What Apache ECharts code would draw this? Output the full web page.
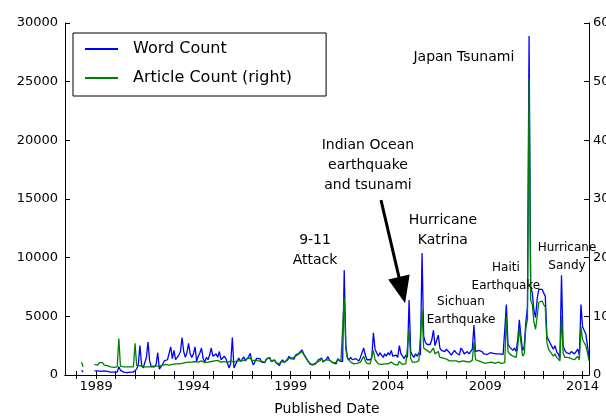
<!DOCTYPE html>
<html>
<head>
<meta charset="utf-8">
<script src="https://cdn.jsdelivr.net/npm/echarts@6/dist/echarts.min.js"></script>
<style>
  html, body { margin: 0; padding: 0; background: #fff; }
  #chart { width: 606px; height: 419px; }
</style>
</head>
<body>
<div id="chart"></div>
<script>
// monthly totals, Jan 1988 .. Apr 2014 (null = no data)
var wordCount = [
  null, null, 400, 250, null, null, null, null, null, null, 350, 450,        // 1988
  350, 500, 300, 450, 350, 400, 300, 250, 250, 300, 250, 300,               // 1989
  250, 700, 400, 300, 250, 200, 200, 250, 250, 200, 250, 300,               // 1990
  500, 900, 2500, 900, 600, 700, 1500, 2800, 1200, 700, 600, 700,           // 1991
  900, 1900, 500, 400, 900, 1200, 1100, 1300, 1200, 2400, 1400, 2100,       // 1992
  1300, 1500, 1700, 2000, 3200, 2000, 1500, 1900, 2700, 1800, 1500, 1800,   // 1993
  2400, 1200, 1600, 1900, 2300, 1400, 1100, 1500, 1300, 1700, 2300, 1600,   // 1994
  1500, 1800, 1500, 2000, 1300, 1400, 1600, 1400, 1000, 600, 1000, 3200,    // 1995
  600, 900, 1200, 1450, 1150, 1300, 1550, 1200, 1280, 1550, 1850, 1200,     // 1996
  850, 1150, 1420, 1250, 1400, 1100, 1250, 1050, 1350, 1200, 1500, 1150,    // 1997
  1000, 1250, 1050, 1000, 800, 1100, 1300, 1050, 950, 1350, 1600, 1400,     // 1998
  1500, 1350, 1700, 1550, 1850, 1750, 2130, 1800, 1700, 1350, 1150, 900,    // 1999
  770, 900, 800, 1050, 1300, 1150, 1450, 1100, 950, 1350, 1560, 1250,       // 2000
  1400, 1050, 1150, 950, 1400, 1200, 1300, 1150, 8950, 2500, 1500, 1300,    // 2001
  1500, 1300, 1200, 1400, 1300, 1200, 1500, 1400, 2300, 1700, 1300, 1400,   // 2002
  1300, 1500, 3600, 2200, 2300, 1600, 1900, 1700, 1500, 1800, 1600, 1900,   // 2003
  1700, 2100, 1600, 1500, 1700, 1500, 2500, 1800, 1600, 1400, 1700, 1500,   // 2004
  6400, 2000, 1700, 1500, 1800, 1600, 1900, 1700, 10400, 3300, 2800, 2600,  // 2005
  2700, 2600, 3000, 3800, 2500, 2400, 3400, 2300, 2100, 2200, 2000, 2200,   // 2006
  2300, 1900, 1700, 1800, 2100, 1900, 1800, 1700, 2300, 2100, 1800, 1900,   // 2007
  2000, 1800, 1850, 2200, 4260, 2000, 1900, 2100, 2150, 2000, 1800, 1700,   // 2008
  1750, 1800, 1900, 2000, 1850, 1700, 1800, 1900, 1800, 1700, 1750, 1850,   // 2009
  6000, 2600, 2400, 2500, 2100, 2300, 2000, 3000, 4700, 3300, 2100, 2400,   // 2010
  4500, 5800, 28900, 7500, 7000, 5500, 4900, 6500, 7300, 7200, 7300, 7000,  // 2011
  6700, 3300, 3000, 2700, 2600, 2200, 2500, 2000, 1800, 1400, 8500, 2500,   // 2012
  2100, 1900, 2000, 1800, 2000, 2100, 1800, 2000, 2200, 1700, 6000, 4100,   // 2013
  3800, 3500, 2500, 1500                                                    // 2014
];

var articleCount = [
  null, null, 22, 14, null, null, null, null, null, null, 18, 20,  // 1988
  17, 21, 18, 21, 17, 20, 16, 15, 14, 14, 13, 14,                 // 1989
  14, 62, 15, 14, 14, 14, 14, 14, 14, 14, 14, 54,                 // 1990
  16, 14, 16, 14, 14, 15, 14, 16, 14, 14, 15, 15,                 // 1991
  15, 16, 15, 16, 17, 17, 18, 18, 17, 19, 18, 18,                 // 1992
  19, 20, 19, 21, 20, 22, 21, 20, 22, 21, 22, 22,                 // 1993
  23, 21, 22, 23, 24, 22, 21, 23, 22, 24, 23, 22,                 // 1994
  24, 23, 25, 23, 22, 24, 23, 22, 21, 20, 24, 26,                 // 1995
  22, 23, 24, 27, 24, 27, 25, 24, 28, 25, 29, 25,                 // 1996
  22, 25, 28, 24, 27, 23, 25, 22, 27, 25, 29, 24,                 // 1997
  23, 26, 21, 22, 19, 23, 26, 22, 21, 25, 29, 27,                 // 1998
  29, 27, 32, 31, 36, 34, 40, 35, 32, 26, 22, 19,                 // 1999
  17, 20, 18, 22, 25, 24, 28, 23, 21, 26, 29, 25,                 // 2000
  27, 21, 23, 21, 26, 24, 25, 23, 132, 44, 28, 25,                // 2001
  22, 20, 19, 21, 20, 19, 22, 21, 32, 24, 20, 20,                 // 2002
  19, 20, 42, 26, 24, 19, 20, 18, 18, 19, 18, 19,                 // 2003
  18, 22, 19, 18, 19, 17, 23, 20, 18, 17, 19, 18,                 // 2004
  77, 28, 22, 20, 22, 21, 24, 22, 111, 46, 44, 42,                // 2005
  40, 38, 40, 46, 36, 34, 40, 30, 28, 29, 27, 27,                 // 2006
  26, 24, 23, 24, 26, 24, 23, 22, 25, 24, 22, 23,                 // 2007
  23, 22, 22, 25, 56, 26, 23, 24, 24, 22, 21, 20,                 // 2008
  20, 21, 22, 22, 21, 20, 21, 22, 21, 20, 20, 21,                 // 2009
  100, 40, 36, 38, 32, 34, 30, 48, 80, 55, 32, 36,                // 2010
  80, 95, 505, 128, 120, 90, 78, 100, 124, 126, 126, 120,         // 2011
  116, 56, 44, 40, 38, 32, 36, 30, 28, 24, 100, 38,               // 2012
  30, 28, 30, 27, 28, 30, 26, 28, 32, 26, 82, 60,                 // 2013
  55, 50, 38, 24                                                  // 2014
];

var firstYear = 1988;
var yearTicks = [];
for (var y = 1988; y <= 2014; y++) yearTicks.push(y);
var yearLabels = [1989, 1994, 1999, 2004, 2009, 2014];

// annotations, anchored in (year, word count)
var notes = [
  { text: 'Japan Tsunami', x: 2007.90, y: 27100, small: false },
  { text: 'Indian Ocean\nearthquake\nand tsunami', x: 2002.97, y: 17900, small: false },
  { text: '9-11\nAttack', x: 2000.25, y: 10650, small: false },
  { text: 'Hurricane\nKatrina', x: 2006.82, y: 12360, small: false },
  { text: 'Sichuan\nEarthquake', x: 2007.75, y: 5450, small: true },
  { text: 'Haiti\nEarthquake', x: 2010.06, y: 8350, small: true },
  { text: 'Hurricane\nSandy', x: 2013.2, y: 10060, small: true }
];
var arrowFrom = [2003.64, 14900];
var arrowTo = [2004.72, 7240];

// month-end positions in fractional years
function toPairs(arr) {
  return arr.map(function (v, i) { return [firstYear + (i + 1) / 12, v]; });
}

var font = 'DejaVu Sans';
var myChart = echarts.init(document.getElementById('chart'));

var option = {
  animation: false,
  textStyle: { fontFamily: font },
  grid: { left: 65, right: 17, top: 23, bottom: 44, containLabel: false, outerBoundsMode: 'none' },
  legend: {
    left: 73,
    top: 33,
    orient: 'vertical',
    backgroundColor: '#fff',
    borderColor: '#000',
    borderWidth: 1,
    borderRadius: 0,
    padding: [6, 34, 8, 12],
    itemGap: 9,
    itemWidth: 33,
    itemHeight: 2,
    icon: 'rect',
    textStyle: { fontSize: 16, color: '#000', fontFamily: font, lineHeight: 20, padding: [0, 0, 0, 10] },
    data: ['Word Count', 'Article Count (right)']
  },
  xAxis: [{
    type: 'value',
    min: 1987.40,
    max: 2014.33,
    name: 'Published Date',
    nameLocation: 'middle',
    nameGap: 27,
    nameTextStyle: { fontSize: 14, color: '#000', fontFamily: font },
    axisLine: { lineStyle: { color: '#000', width: 1 } },
    axisTick: { inside: true, length: 4, customValues: yearTicks, lineStyle: { color: '#000' } },
    axisLabel: { customValues: yearLabels, color: '#000', fontSize: 13, margin: 5, fontFamily: font,
      formatter: function (v) { return String(v); } },
    splitLine: { show: false }
  }, {
    type: 'value',
    position: 'top',
    min: 1987.40,
    max: 2014.33,
    axisLine: { lineStyle: { color: '#000', width: 1 } },
    axisTick: { inside: true, length: 4, customValues: yearTicks, lineStyle: { color: '#000' } },
    axisLabel: { show: false },
    splitLine: { show: false }
  }],
  yAxis: [{
    type: 'value',
    min: 0,
    max: 30000,
    interval: 5000,
    axisLine: { show: true, lineStyle: { color: '#000', width: 1 } },
    axisTick: { show: true, inside: true, length: 5, lineStyle: { color: '#000' } },
    axisLabel: { color: '#000', fontSize: 13, margin: 7, fontFamily: font,
      formatter: function (v) { return String(v); } },
    splitLine: { show: false }
  }, {
    type: 'value',
    min: 0,
    max: 600,
    interval: 100,
    position: 'right',
    axisLine: { show: true, lineStyle: { color: '#000', width: 1 } },
    axisTick: { show: true, inside: true, length: 5, lineStyle: { color: '#000' } },
    axisLabel: { color: '#000', fontSize: 13, margin: 4, fontFamily: font,
      formatter: function (v) { return String(v); } },
    splitLine: { show: false }
  }],
  series: [{
    name: 'Word Count',
    type: 'line',
    xAxisIndex: 0,
    yAxisIndex: 0,
    data: toPairs(wordCount),
    showSymbol: false,
    symbol: 'none',
    lineStyle: { color: '#0000ff', width: 1.3 },
    itemStyle: { color: '#0000ff' },
    markPoint: {
      symbol: 'circle',
      symbolSize: 1,
      itemStyle: { color: 'rgba(0,0,0,0)' },
      data: notes.map(function (n) {
        return {
          coord: [n.x, n.y],
          label: {
            show: true,
            position: 'inside',
            formatter: n.text,
            color: '#000',
            fontFamily: font,
            fontSize: n.small ? 12 : 14,
            lineHeight: n.small ? 18 : 20,
            align: 'center'
          }
        };
      })
    },
    markLine: {
      silent: true,
      symbol: ['none', 'triangle'],
      symbolSize: [22, 27],
      label: { show: false },
      lineStyle: { color: '#000', width: 3, type: 'solid' },
      data: [[{ coord: arrowFrom }, { coord: arrowTo }]]
    }
  }, {
    name: 'Article Count (right)',
    type: 'line',
    xAxisIndex: 0,
    yAxisIndex: 1,
    data: toPairs(articleCount),
    showSymbol: false,
    symbol: 'none',
    lineStyle: { color: '#008000', width: 1.3 },
    itemStyle: { color: '#008000' }
  }]
};

if (option && typeof option === 'object') {
  myChart.setOption(option, true);
}
</script>
</body>
</html>
